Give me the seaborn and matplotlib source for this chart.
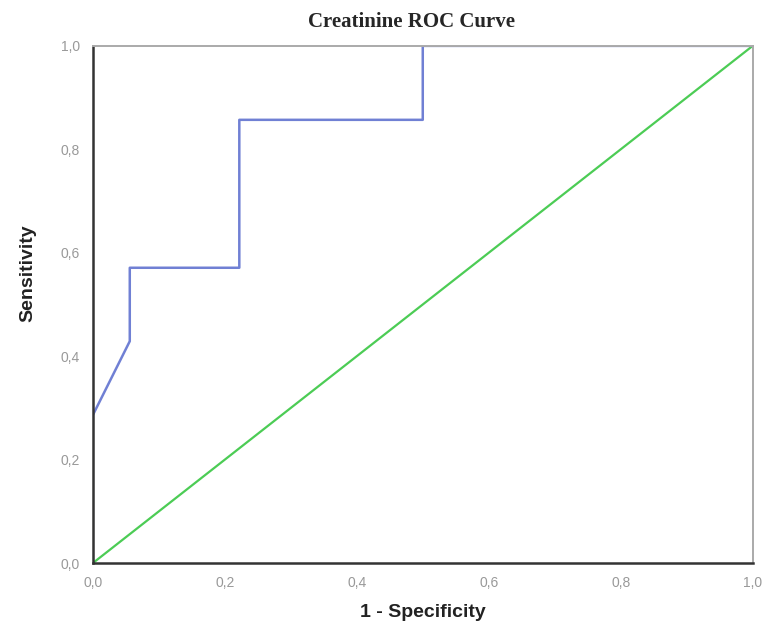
import numpy as np
import pandas as pd
import matplotlib
matplotlib.use("Agg")
import matplotlib.pyplot as plt
import seaborn as sns

# ROC curve points (1 - specificity, sensitivity)
fpr = [0.0, 0.0, 0.056, 0.056, 0.222, 0.222, 0.5, 0.5, 1.0]
tpr = [0.0, 0.286, 0.429, 0.571, 0.571, 0.857, 0.857, 1.0, 1.0]
ref_x = [0.0, 1.0]
ref_y = [0.0, 1.0]
tick_vals = [0.0, 0.2, 0.4, 0.6, 0.8, 1.0]
tick_labels = ["0,0", "0,2", "0,4", "0,6", "0,8", "1,0"]

sns.set_style("white")
plt.rcParams['font.family'] = ['Liberation Sans', 'DejaVu Sans']

roc = pd.DataFrame({"fpr": fpr, "tpr": tpr})
ref = pd.DataFrame({"x": ref_x, "y": ref_y})

fig = plt.figure(figsize=(7.8, 6.37), dpi=100)
ax = fig.add_axes([0.119, 0.116, 0.846, 0.812])

sns.lineplot(data=ref, x="x", y="y", ax=ax, color="#4ccc55", linewidth=1.6,
             sort=False, estimator=None)
sns.lineplot(data=roc, x="fpr", y="tpr", ax=ax, color="#7080d4", linewidth=1.8,
             sort=False, estimator=None)

ax.set_xlim(0, 1)
ax.set_ylim(0, 1)
ax.set_xticks(tick_vals)
ax.set_xticklabels(tick_labels)
ax.set_yticks(tick_vals)
ax.set_yticklabels(tick_labels)
ax.tick_params(axis="both", length=6, width=1.2, color="#333333",
               labelcolor="#999999", labelsize=10, direction="out")

for side in ["left", "bottom"]:
    ax.spines[side].set_color("#333333")
    ax.spines[side].set_linewidth(1.8)
for side in ["top", "right"]:
    ax.spines[side].set_color("#aaaaaa")
    ax.spines[side].set_linewidth(1.4)

ax.set_xlabel("1 - Specificity", fontsize=14, fontweight="bold", color="#222222",
              labelpad=10)
ax.set_ylabel("Sensitivity", fontsize=14, fontweight="bold", color="#222222")
ax.yaxis.set_label_coords(-0.085, 0.56)
fig.text(0.527, 0.965, "Creatinine ROC Curve", ha="center", va="center",
         fontsize=15, fontweight="bold", family=["Liberation Serif", "DejaVu Serif"])

fig.savefig("out.png", dpi=100)
